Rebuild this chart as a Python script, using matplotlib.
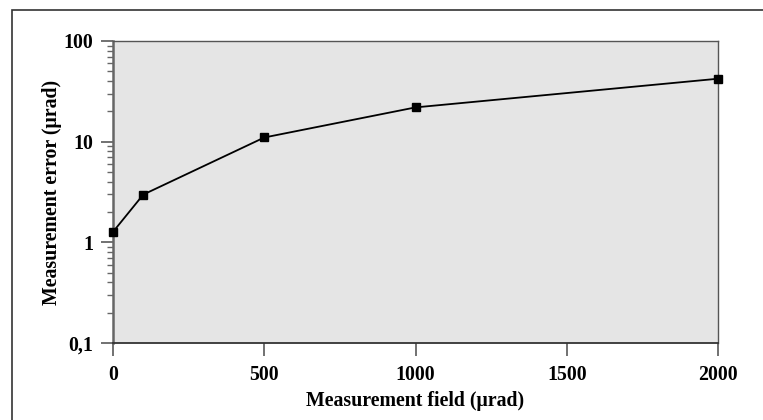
import matplotlib
matplotlib.use("Agg")
import matplotlib.pyplot as plt
from matplotlib.patches import Rectangle
from matplotlib.ticker import LogLocator, FixedLocator, FuncFormatter, NullFormatter

field = [0, 100, 500, 1000, 2000]
error = [1.27, 2.98, 11.0, 21.9, 42.2]
xticks = [0, 500, 1000, 1500, 2000]
yticks = [0.1, 1, 10, 100]
ytick_labels = ["0,1", "1", "10", "100"]

plt.rcParams['font.family'] = ['Liberation Serif', 'DejaVu Serif']
plt.rcParams['font.weight'] = 'bold'
FS = 14.3

fig = plt.figure(figsize=(7.63, 4.2), dpi=100)
fig.patches.append(Rectangle((12/763, -0.1), 1.2, (420-10)/420 + 0.1, transform=fig.transFigure,
                             fill=False, edgecolor='#333333', linewidth=1.2))
ax = fig.add_axes([113/763, 77/420, 605/763, 302/420])
ax.set_facecolor('#e5e5e5')
ax.plot(field, error, color='black', linewidth=1.3, marker='s', markersize=5.2,
        markerfacecolor='black', markeredgecolor='black', clip_on=False, zorder=3)
ax.set_yscale('log')
ax.set_ylim(0.1, 100)
ax.set_xlim(0, 2000)
ax.yaxis.set_major_locator(FixedLocator(yticks))
ax.yaxis.set_major_formatter(FuncFormatter(lambda v, p: ytick_labels[yticks.index(min(yticks, key=lambda t: abs(t - v)))]))
ax.yaxis.set_minor_locator(LogLocator(base=10, subs=range(2, 10)))
ax.yaxis.set_minor_formatter(NullFormatter())
ax.set_xticks(xticks)
ax.set_xticklabels([str(x) for x in xticks])
for s in ['top', 'right']:
    ax.spines[s].set_color('#555555')
    ax.spines[s].set_linewidth(1.0)
ax.spines['left'].set_color('#666666')
ax.spines['left'].set_linewidth(1.8)
ax.spines['bottom'].set_color('#333333')
ax.spines['bottom'].set_linewidth(1.3)
ax.tick_params(axis='both', which='major', direction='out', length=9, width=1.3, color='#666666',
               labelsize=FS, pad=7)
ax.tick_params(axis='y', which='minor', direction='out', length=4.5, width=1.0, color='#666666')
ax.tick_params(axis='y', which='major', pad=5)
for lab in ax.get_xticklabels() + ax.get_yticklabels():
    lab.set_fontweight('bold')
ax.set_xlabel('Measurement field (\u03bcrad)', fontsize=FS, fontweight='bold', labelpad=4)
ax.set_ylabel('Measurement error (\u03bcrad)', fontsize=FS, fontweight='bold', labelpad=1)
fig.savefig('out.png', dpi=100)
